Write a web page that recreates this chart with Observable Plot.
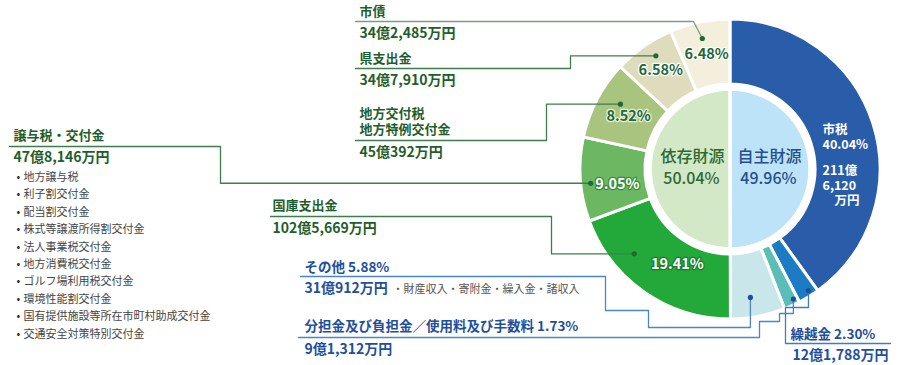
<!DOCTYPE html>
<html><head><meta charset="utf-8">
<script src="https://cdn.jsdelivr.net/npm/d3@7"></script>
<script src="https://cdn.jsdelivr.net/npm/@observablehq/plot@0.6"></script>
<style>body{margin:0;background:#fff}</style>
</head><body><div id="chart"></div>
<script>
// ---------- data ----------
const segNames = ["市税","繰越金","分担金及び負担金／使用料及び手数料","その他","国庫支出金","譲与税・交付金","地方交付税\n地方特例交付金","県支出金","市債"];
const segPercents = [40.04, 2.30, 1.73, 5.88, 19.41, 9.05, 8.52, 6.58, 6.48];
const segAmounts = ["211億6,120万円","12億1,788万円","9億1,312万円","31億912万円","102億5,669万円","47億8,146万円","45億392万円","34億7,910万円","34億2,485万円"];
const groupNames = ["自主財源","依存財源"];
const groupPercents = [49.96, 50.04];
const jouyoItems = ["地方譲与税","利子割交付金","配当割交付金","株式等譲渡所得割交付金","法人事業税交付金","地方消費税交付金","ゴルフ場利用税交付金","環境性能割交付金","国有提供施設等所在市町村助成交付金","交通安全対策特別交付金"];
const sonotaItems = ["財産収入","寄附金","繰入金","諸収入"];

// ---------- styles / layout ----------
const FONT = "'Noto Sans CJK JP','Noto Sans',sans-serif";
const segColors = ["#2a5da9","#1b7cc3","#5bbdb8","#c9e7ea","#23a83a","#6cb862","#a9c47f","#dfdcbd","#f3efdc"];
const groupColors = ["#bde3f8","#d3e8c6"];
const GREEN_TXT = "#1f5e2c", BLUE_TXT = "#1f4f9c";
const CX = 730, CY = 169, R_OUT = 150, R_IN = 85, R_PIE = 80;

const pie = d3.pie().sort(null).value(d => d);
const ring = pie(segPercents);
const inner = pie(groupPercents);
const angAt = (seg, f) => ring[seg].startAngle + f * (ring[seg].endAngle - ring[seg].startAngle);
const polar = (a, r) => [CX + r * Math.sin(a), CY - r * Math.cos(a)];

// callouts: segment, anchor fraction/radius, route to the dot
const callouts = [
  {seg: 8, f: .48, r: 134, line: "#7d9c85", dot: "#1d6a34", path: d => [[355,21],[693,21]]},
  {seg: 7, f: .58, r: 136, line: "#3e7d4c", dot: "#1d6a34", path: d => [[355,68],[570,68],[570,d[1]]]},
  {seg: 6, f: .60, r: 128, line: "#3e7d4c", dot: "#1d6a34", path: d => [[355,140],[546,140],[546,d[1]]]},
  {seg: 5, f: .45, r: 140.5, line: "#3e7d4c", dot: "#1d6a34", path: d => [[9,146],[220,146],[220,d[1]]]},
  {seg: 4, f: .70, r: 128, line: "#3e7d4c", dot: "#1d6a34", path: d => [[270,216],[551,216],[551,d[1]]]},
  {seg: 3, f: .59, r: 129.5, line: "#4a86c8", dot: "#1f4f9c", path: d => [[300,276],[605,276],[605,310],[648,310],[648,327],[d[0],327]]},
  {seg: 2, f: .27, r: 144, line: "#4a86c8", dot: "#1f4f9c", path: d => [[298,337],[759,337],[759,321],[779,321],[779,313],[d[0],313]]},
  {seg: 1, f: .37, r: 144, line: "#3f7cc0", dot: "#1f4f9c", path: d => [[890,343],[785,343],[785,307],[d[0],307]]}
];
const linePts = [], dots = [];
callouts.forEach((c, k) => {
  const d = polar(angAt(c.seg, c.f), c.r);
  dots.push({x: d[0], y: d[1], color: c.dot});
  [...c.path(d), d].forEach(p => linePts.push({id: k, x: p[0], y: p[1], color: c.line}));
});

// text placements
const headLines = s => s.split("\n");
const greenHead = [
  {seg: 8, x: 359, y: 11}, {seg: 7, x: 359, y: 58}, {seg: 6, x: 359, y: 113},
  {seg: 4, x: 272, y: 205}, {seg: 5, x: 13, y: 135}
].flatMap(o => headLines(segNames[o.seg]).map((t, j) => ({...o, y: o.y + j * 16, text: t})));
const greenAmt = [
  {seg: 8, x: 359, y: 33}, {seg: 7, x: 359, y: 80}, {seg: 6, x: 359, y: 152},
  {seg: 4, x: 272, y: 228}, {seg: 5, x: 13, y: 157}
].map(o => ({...o, text: segAmounts[o.seg]}));
const blueHead = [
  {seg: 3, x: 304, y: 267}, {seg: 2, x: 304, y: 326}, {seg: 1, x: 790, y: 334}
].map(o => ({...o, text: segNames[o.seg] + " " + segPercents[o.seg].toFixed(2) + "%"}));
const blueAmt = [
  {seg: 3, x: 304, y: 288}, {seg: 2, x: 304, y: 349}, {seg: 1, x: 792, y: 355}
].map(o => ({...o, text: segAmounts[o.seg]}));
const bullets = jouyoItems.map((t, i) => ({text: t, x: 23, y: 177 + i * 17.4}));
const sonotaText = [{x: 392, y: 288.5, text: sonotaItems.map(s => "・" + s).join("")}];

const pctLabels = [
  {seg: 8, f: .5, r: 118, fill: "#21683a", stroke: "#ffffff"},
  {seg: 7, f: .5, r: 121, fill: "#21683a", stroke: "#ffffff"},
  {seg: 6, f: .5, r: 115, fill: "#21683a", stroke: "#e8efd9"},
  {seg: 5, f: .40, r: 114, fill: "#ffffff", stroke: "#3d8a3d"},
  {seg: 4, f: .42, r: 109, fill: "#ffffff", stroke: "#1b7a2b"}
].map(o => { const p = polar(angAt(o.seg, o.f), o.r); return {...o, x: p[0], y: p[1], text: segPercents[o.seg].toFixed(2) + "%"}; });

const amt0 = segAmounts[0].match(/^(.*億)(.*)(万円)$/);
const shizei = [
  {x: 822, y: 129, text: segNames[0]},
  {x: 822, y: 144.5, text: segPercents[0].toFixed(2) + "%"},
  {x: 822, y: 170.5, text: amt0[1]},
  {x: 822, y: 185.5, text: amt0[2]},
  {x: 834, y: 200.5, text: amt0[3]}
];
const center = [
  {x: 769, y: 156.5, text: groupNames[0], fill: "#264e8d"},
  {x: 768, y: 178, text: groupPercents[0].toFixed(2) + "%", fill: "#264e8d"},
  {x: 692, y: 156.5, text: groupNames[1], fill: "#2d6a33"},
  {x: 691, y: 178, text: groupPercents[1].toFixed(2) + "%", fill: "#2d6a33"}
];

// arcs drawn with d3.arc in the plot's coordinate system
function donut(index, scales) {
  const g = d3.create("svg:g");
  const cx = scales.x(CX), cy = scales.y(CY);
  const outer = d3.arc().innerRadius(R_IN).outerRadius(R_OUT);
  const innerArc = d3.arc().innerRadius(0).outerRadius(R_PIE);
  g.attr("transform", `translate(${cx},${cy})`);
  g.selectAll("path.seg").data(ring).join("path")
    .attr("d", outer).attr("fill", (d, i) => segColors[i])
    .attr("stroke", "#fff").attr("stroke-width", 3).attr("stroke-linejoin", "round");
  g.selectAll("path.grp").data(inner).join("path")
    .attr("d", innerArc).attr("fill", (d, i) => groupColors[i])
    .attr("stroke", "#fff").attr("stroke-width", 3.5);
  return g.node();
}

const txt = (data, o) => Plot.text(data, {x: "x", y: "y", text: "text", textAnchor: "start", fontFamily: FONT, ...o});

const chart = Plot.plot({
  width: 900, height: 365, margin: 0,
  x: {domain: [0, 900], range: [0, 900], axis: null},
  y: {domain: [0, 365], range: [0, 365], axis: null},
  color: {type: "identity"},
  style: {background: "#fff", fontFamily: FONT},
  marks: [
    donut,
    Plot.line(linePts, {x: "x", y: "y", z: "id", stroke: "color", strokeWidth: 1.3, curve: "linear"}),
    Plot.dot(dots, {x: "x", y: "y", r: 2.6, fill: "color"}),
    txt(greenHead, {fill: GREEN_TXT, fontSize: 13, fontWeight: "bold"}),
    txt(greenAmt, {fill: GREEN_TXT, fontSize: 14, fontWeight: "bold"}),
    txt(blueHead, {fill: BLUE_TXT, fontSize: 13.5, fontWeight: "bold"}),
    txt(blueAmt, {fill: BLUE_TXT, fontSize: 14, fontWeight: "bold"}),
    txt(sonotaText, {fill: "#555", fontSize: 11}),
    txt(bullets, {fill: "#444", fontSize: 11}),
    txt(bullets, {text: () => "•", dx: -7, fill: "#333", fontSize: 11}),
    Plot.text(pctLabels, {x: "x", y: "y", text: "text", fill: "fill", stroke: "stroke", strokeWidth: 2.5, fontFamily: FONT, fontSize: 14.5, fontWeight: "bold"}),
    txt(shizei, {fill: "#fff", fontSize: 12.5, fontWeight: "bold"}),
    Plot.text(center, {x: "x", y: "y", text: "text", fill: "fill", fontFamily: FONT, fontSize: 16, fontWeight: 500})
  ]
});
document.getElementById("chart").appendChild(chart);
</script>
</body></html>
